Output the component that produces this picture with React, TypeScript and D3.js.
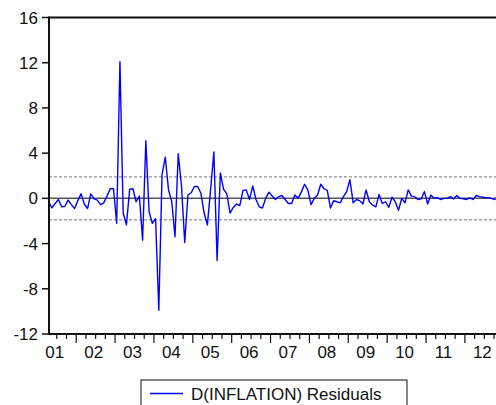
import React from "react";
import * as d3 from "d3";

// monthly residuals, 2001M04 .. 2012M10
const res2001 = [-0.3, -0.85, -0.45, -0.1, -0.75, -0.7, -0.15, -0.55, -0.9];
const res2002 = [-0.2, 0.4, -0.5, -0.9, 0.4, -0.05, -0.15, -0.55, -0.4, 0.2, 0.85, 0.85];
const res2003 = [-2.2, 12.1, -1.3, -2.35, 0.8, 0.85, -0.3, 0.2, -3.7, 5.1, -1.2, -2.2];
const res2004 = [-1.8, -9.9, 2.1, 3.65, 0.75, -0.3, -3.4, 3.95, 1.1, -3.9, 0.3, 0.5];
const res2005 = [1.05, 1.05, 0.45, -1.3, -2.35, 0.8, 4.1, -5.5, 2.25, 0.8, 0.4, -1.3];
const res2006 = [-0.8, -0.5, -0.65, 0.7, 0.75, -0.1, 1.1, -0.1, -0.75, -0.85, 0.0, 0.55];
const res2007 = [0.2, -0.1, 0.15, 0.25, -0.1, -0.45, -0.45, 0.3, 0.0, 0.55, 1.25, 0.75];
const res2008 = [-0.55, 0.0, 0.3, 1.25, 0.85, 0.7, -0.85, -0.2, -0.3, -0.4, 0.15, 0.6];
const res2009 = [1.65, -0.4, -0.1, -0.2, -0.5, 0.75, -0.3, -0.6, -0.75, 0.35, -0.45, -0.3];
const res2010 = [-0.8, 0.1, -0.3, -1.05, 0.0, -0.4, 0.75, 0.2, 0.15, -0.1, -0.05, 0.6];
const res2011 = [-0.5, 0.3, 0.0, 0.05, -0.1, 0.0, 0.0, 0.15, -0.05, 0.25, 0.0, -0.05];
const res2012 = [-0.1, 0.05, -0.1, 0.25, 0.15, 0.1, 0.05, 0.05, -0.05, -0.1];

const startYear = 2001;
const startMonth = 4;
const yTicks = [-12, -8, -4, 0, 4, 8, 12, 16];
const yearLabels = ["01", "02", "03", "04", "05", "06", "07", "08", "09", "10", "11", "12"];
const band = 1.9; // +/- 2 s.e. band
const seriesName = "D(INFLATION) Residuals";

const residuals = [
  ...res2001, ...res2002, ...res2003, ...res2004, ...res2005, ...res2006,
  ...res2007, ...res2008, ...res2009, ...res2010, ...res2011, ...res2012,
];

const W = 496;
const H = 405;
const plot = { left: 49, right: 497, top: 17.5, bottom: 334 };
const font = "'Liberation Sans', Arial, sans-serif";

export default function App() {
  const x = d3.scaleLinear().domain([2001.3, 2012.8]).range([plot.left, plot.right - 1]);
  const y = d3.scaleLinear().domain([-12, 16]).range([plot.bottom, plot.top]);

  const points = residuals.map((v, i) => {
    const m = startMonth - 1 + i;
    return { t: startYear + (m + 0.5) / 12, v };
  });

  const line = d3
    .line<{ t: number; v: number }>()
    .x((d) => x(d.t))
    .y((d) => y(d.v));

  // quarter ticks on the time axis
  const qTicks = d3
    .range(2001 * 4, 2013 * 4)
    .map((q) => q / 4)
    .filter((t) => t >= 2001.3 && t <= 2012.8);

  return (
    <svg
      width={W}
      height={H}
      style={{ position: "absolute", left: 0, top: 0, background: "#fff" }}
      fontFamily={font}
    >
      <defs>
        <clipPath id="plotclip">
          <rect x={plot.left} y={plot.top} width={plot.right - plot.left} height={plot.bottom - plot.top} />
        </clipPath>
      </defs>

      {/* reference lines */}
      <line x1={plot.left} x2={plot.right} y1={y(0)} y2={y(0)} stroke="#555" strokeWidth={1.5} />
      {[band, -band].map((b) => (
        <line
          key={b}
          x1={plot.left}
          x2={plot.right}
          y1={y(b)}
          y2={y(b)}
          stroke="#777"
          strokeWidth={1}
          strokeDasharray="3,2"
        />
      ))}

      <path
        d={line(points) ?? ""}
        fill="none"
        stroke="#0000ff"
        strokeWidth={1.4}
        strokeLinejoin="round"
        clipPath="url(#plotclip)"
      />

      {/* frame */}
      <line x1={plot.left} x2={plot.right} y1={plot.top} y2={plot.top} stroke="#111" strokeWidth={2} />
      <line x1={plot.left} x2={plot.right} y1={plot.bottom} y2={plot.bottom} stroke="#111" strokeWidth={2} />
      <line x1={plot.left} x2={plot.left} y1={plot.top - 1} y2={plot.bottom + 1} stroke="#111" strokeWidth={2} />

      {/* y axis */}
      {yTicks.map((t) => (
        <g key={t}>
          <line x1={plot.left - 7} x2={plot.left} y1={y(t)} y2={y(t)} stroke="#111" strokeWidth={1.5} />
          <text x={38} y={y(t)} dy="0.36em" textAnchor="end" fontSize={17} fill="#111">
            {t}
          </text>
        </g>
      ))}

      {/* x axis */}
      {qTicks.map((t) => {
        const major = Math.abs(t - Math.round(t)) < 1e-6;
        return (
          <line
            key={t}
            x1={x(t)}
            x2={x(t)}
            y1={plot.bottom}
            y2={plot.bottom + (major ? 9 : 5)}
            stroke="#111"
            strokeWidth={1.2}
          />
        );
      })}
      {yearLabels.map((lab, i) => (
        <text
          key={lab}
          x={x(startYear + i + 0.5) - 2}
          y={358}
          textAnchor="middle"
          fontSize={17}
          fill="#111"
        >
          {lab}
        </text>
      ))}

      {/* legend */}
      <rect x={141} y={380} width={266} height={32} fill="#fff" stroke="#111" strokeWidth={1} />
      <line x1={150} x2={183} y1={393.5} y2={393.5} stroke="#0000ff" strokeWidth={1.4} />
      <text x={191} y={399.5} fontSize={17} fill="#111">
        {seriesName}
      </text>
    </svg>
  );
}
